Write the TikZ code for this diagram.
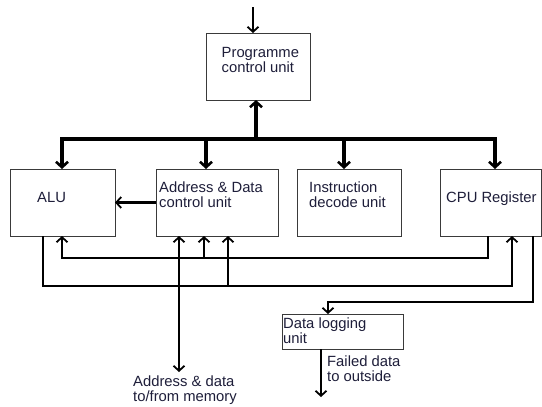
\documentclass[tikz,border=0pt]{standalone}
\usepackage{fontspec}
\setmainfont{Liberation Sans}
\usetikzlibrary{arrows.meta}
\definecolor{ink}{HTML}{1E1E3A}
\definecolor{frame}{HTML}{3A3A3A}
\begin{document}
\begin{tikzpicture}[x=1pt,y=-1pt,
  unitbox/.style={draw=frame, line width=0.9pt, anchor=north west, inner sep=0pt, outer sep=0pt},
  lbl/.style={anchor=north west, inner sep=0pt, align=left, text=ink,
              font=\fontsize{14.8}{14.6}\selectfont},
  bus/.style={line width=3.6pt, line cap=rect},
  drop/.style={line width=3.6pt, -{Straight Barb[length=5.5pt,width=12pt,line width=2.6pt]}},
  wire/.style={line width=2.3pt, line join=miter},
  tip/.style={-{Straight Barb[length=5pt,width=11pt,line width=1.8pt]}},
  both/.style={{Straight Barb[length=5pt,width=11pt,line width=1.8pt]}-{Straight Barb[length=5pt,width=11pt,line width=1.8pt]}}]
\useasboundingbox (0,0) rectangle (542,407);
\fill[white] (0,0) rectangle (542,407);

% functional blocks
\node[unitbox, minimum width=104pt, minimum height=67pt] (prog) at (206,33) {};
\node[unitbox, minimum width=105pt, minimum height=67pt] (alu)  at (10,169) {};
\node[unitbox, minimum width=122pt, minimum height=67pt] (adc)  at (156,169) {};
\node[unitbox, minimum width=104pt, minimum height=67pt] (idu)  at (297,169) {};
\node[unitbox, minimum width=101pt, minimum height=67pt] (cpu)  at (440,169) {};
\node[unitbox, minimum width=121pt, minimum height=35pt] (dlu)  at (282,314) {};

% block labels
\node[lbl] (progT) at (221.5,47.5) {Programme\\control unit};
\node[lbl] (aluT)  at (37,192)     {ALU};
\node[lbl] (adcT)  at (159,181.5)  {Address \& Data\\control unit};
\node[lbl] (iduT)  at (309,181.5)  {Instruction\\decode unit};
\node[lbl] (cpuT)  at (446,191.5)  {CPU Register};
\node[lbl] (dluT)  at (283,318)    {Data logging\\unit};
\node[lbl] (failT) at (327,356)    {Failed data\\to outside};
\node[lbl] (memT)  at (133,376)    {Address \& data\\to/from memory};

% control bus
\coordinate (in)   at (253,7);
\coordinate (busL) at (62,139);
\coordinate (busM) at (256,139);
\coordinate (busR) at (495,139);
\coordinate (busA) at (206,139);
\coordinate (busI) at (344,139);

\draw[wire, tip] (in) -- (in |- prog.north);
\draw[bus] (busL) -- (busR);
\draw[drop] (busM) -- (busM |- prog.south);
\draw[drop] (busL) -- (busL |- alu.north);
\draw[drop] (busA) -- (busA |- adc.north);
\draw[drop] (busI) -- (busI |- idu.north);
\draw[drop] (busR) -- (busR |- cpu.north);

% address/data unit to ALU
\draw[wire, tip] (adc.west) -- (adc.west -| alu.east);

% register outputs back to ALU and address unit
\coordinate (ra) at (488,258);
\coordinate (la) at (62,258);
\coordinate (ba) at (204,258);
\draw[wire, tip] (cpu.south -| ra) -- (ra) -- (la) -- (alu.south -| la);
\draw[wire, tip] (ba) -- (adc.south -| ba);

% ALU results to register and address unit
\coordinate (lb) at (43,286);
\coordinate (rb) at (512,286);
\coordinate (bb) at (228,286);
\draw[wire, tip] (alu.south -| lb) -- (lb) -- (rb) -- (cpu.south -| rb);
\draw[wire, tip] (bb) -- (adc.south -| bb);

% memory port
\coordinate (mem) at (179,372);
\draw[wire, both] (mem) -- (adc.south -| mem);

% register to data logging unit and out
\coordinate (rc) at (533,302);
\coordinate (lc) at (328,302);
\draw[wire, tip] (cpu.south -| rc) -- (rc) -- (lc) -- (dlu.north -| lc);
\coordinate (out) at (321,397);
\draw[wire, tip] (dlu.south -| out) -- (out);
\end{tikzpicture}
\end{document}
